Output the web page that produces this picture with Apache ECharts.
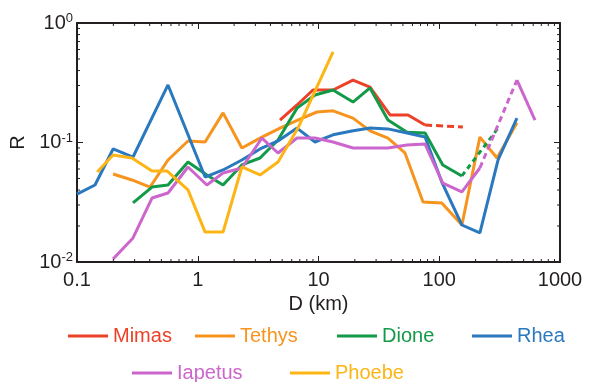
<!DOCTYPE html>
<html>
<head>
<meta charset="utf-8">
<script src="https://cdn.jsdelivr.net/npm/echarts@6/dist/echarts.min.js"></script>
<style>
  html, body { margin: 0; padding: 0; background: #fff; }
  #chart { width: 595px; height: 382px; }
</style>
</head>
<body>
<div id="chart"></div>
<script>
// 各卫星 R 值曲线：[D (km), R]
const mimas = [[4.8, 0.154], [6.64, 0.206], [9.0, 0.275], [13.2, 0.275], [19.3, 0.333],
  [26.7, 0.291], [39.1, 0.170], [55.1, 0.170], [76.3, 0.140]];
const mimasExt = [[76.3, 0.140], [157, 0.135]];

const tethys = [[0.199, 0.0545], [0.285, 0.0486], [0.403, 0.0424], [0.567, 0.0714], [0.83, 0.103],
  [1.15, 0.101], [1.62, 0.177], [2.32, 0.0899], [3.40, 0.111], [4.80, 0.132], [7.03, 0.157],
  [9.72, 0.180], [13.2, 0.184], [19.3, 0.160], [26.7, 0.125], [37.6, 0.109], [52.0, 0.0817],
  [73.4, 0.0318], [105, 0.0312], [154, 0.0204], [217, 0.111], [301, 0.0742], [440, 0.146]];

const dione = [[0.291, 0.0312], [0.418, 0.0424], [0.567, 0.0441], [0.83, 0.0687], [1.19, 0.0535],
  [1.62, 0.0441], [2.32, 0.0649], [3.28, 0.0742], [4.62, 0.105], [6.64, 0.194], [9.35, 0.250],
  [13.2, 0.275], [19.3, 0.218], [26.7, 0.286], [37.6, 0.154], [54.1, 0.122], [76.3, 0.120],
  [107, 0.0649], [154, 0.0525]];
const dioneExt = [[154, 0.0525], [307, 0.132]];

const rhea = [[0.1, 0.037], [0.141, 0.0441], [0.199, 0.0883], [0.291, 0.0756], [0.567, 0.303],
  [1.15, 0.0514], [1.62, 0.0589], [2.32, 0.0714], [3.28, 0.0883], [4.62, 0.103], [6.64, 0.132],
  [9.35, 0.101], [13.2, 0.116], [18.9, 0.125], [26.7, 0.132], [37.6, 0.130], [54.1, 0.120],
  [76.3, 0.111], [105, 0.0467], [154, 0.0204], [217, 0.0175], [307, 0.0714], [440, 0.160]];

const iapetus = [[0.199, 0.0106], [0.291, 0.0159], [0.418, 0.0343], [0.567, 0.0378], [0.83, 0.0624],
  [1.19, 0.0441], [1.62, 0.0556], [2.32, 0.0612], [3.40, 0.109], [4.62, 0.0817], [6.64, 0.109],
  [9.35, 0.109], [13.2, 0.101], [19.3, 0.0899], [26.7, 0.0899], [37.6, 0.0899], [54.1, 0.0953],
  [76.3, 0.0971], [107, 0.0458], [154, 0.0386], [217, 0.0612]];
const iapetusExt = [[217, 0.0612], [440, 0.333]];
const iapetusTail = [[440, 0.333], [621, 0.154]];

const phoebe = [[0.147, 0.0566], [0.199, 0.0786], [0.285, 0.0742], [0.418, 0.0578], [0.556, 0.0578],
  [0.83, 0.0401], [1.15, 0.0178], [1.62, 0.0178], [2.32, 0.0624], [3.28, 0.0535], [4.62, 0.0687],
  [6.76, 0.132], [13.2, 0.572]];

// 对数坐标的次刻度
const xMinorTicks = [0.2, 0.3, 0.4, 0.5, 0.6, 0.7, 0.8, 0.9, 2, 3, 4, 5, 6, 7, 8, 9,
  20, 30, 40, 50, 60, 70, 80, 90, 200, 300, 400, 500, 600, 700, 800, 900];
const yMinorTicks = [0.02, 0.03, 0.04, 0.05, 0.06, 0.07, 0.08, 0.09,
  0.2, 0.3, 0.4, 0.5, 0.6, 0.7, 0.8, 0.9];

const C = {
  Mimas: '#ec4128', Tethys: '#f7941d', Dione: '#139a48',
  Rhea: '#2a79bf', Iapetus: '#cc66cc', Phoebe: '#fdb515',
};
const FONT = "'Liberation Sans', Arial, sans-serif";
const INK = '#231f20';

const chart = echarts.init(document.getElementById('chart'), null, { renderer: 'canvas' });

function line(name, data, color, dash) {
  return {
    name, type: 'line', data, symbol: 'none', showSymbol: false,
    color, lineStyle: { color, width: 3, type: dash || 'solid' },
    xAxisIndex: 0, yAxisIndex: 0, silent: true,
  };
}

// 次刻度：用 custom series 按坐标轴换算后画短线（刻度朝内）
const minorX = {
  type: 'custom', silent: true, clip: false, z: 5,
  data: xMinorTicks.map(v => [v, 0.01]),
  renderItem: (params, api) => {
    const v = api.value(0);
    const b = api.coord([v, 0.01]);
    const t = api.coord([v, 1]);
    const st = { stroke: INK, lineWidth: 1 };
    return { type: 'group', children: [
      { type: 'line', shape: { x1: b[0], y1: b[1], x2: b[0], y2: b[1] - 3 }, style: st },
      { type: 'line', shape: { x1: t[0], y1: t[1], x2: t[0], y2: t[1] + 3 }, style: st },
    ] };
  },
};
const minorY = {
  type: 'custom', silent: true, clip: false, z: 5,
  data: yMinorTicks.map(v => [0.1, v]),
  renderItem: (params, api) => {
    const v = api.value(1);
    const l = api.coord([0.1, v]);
    const r = api.coord([1000, v]);
    const st = { stroke: INK, lineWidth: 1 };
    return { type: 'group', children: [
      { type: 'line', shape: { x1: l[0], y1: l[1], x2: l[0] + 3, y2: l[1] }, style: st },
      { type: 'line', shape: { x1: r[0], y1: r[1], x2: r[0] - 3, y2: r[1] }, style: st },
    ] };
  },
};

const axisCommon = {
  axisLine: { show: true, onZero: false, lineStyle: { color: INK, width: 2 } },
  axisTick: { show: true, inside: true, length: 6, lineStyle: { color: INK, width: 1 } },
  splitLine: { show: false },
};

// 图例：每项单独定位（线段起点 x，行中心 y）
const legendPos = [
  ['Mimas', 68, 335], ['Tethys', 195, 335], ['Dione', 337, 335], ['Rhea', 472, 335],
  ['Iapetus', 132, 372], ['Phoebe', 290, 372],
];

chart.setOption({
  animation: false,
  backgroundColor: '#fff',
  textStyle: { fontFamily: FONT },
  grid: { left: 77, right: 35, top: 23, bottom: 120, containLabel: false, outerBoundsMode: 'none' },
  legend: legendPos.map(([n, x, y]) => ({
    data: [{ name: n, textStyle: { color: C[n] } }],
    left: x, top: y - 9, padding: 0, icon: 'rect', itemWidth: 40, itemHeight: 3,
    textStyle: { fontSize: 20, fontFamily: FONT, color: C[n] },
    selectedMode: false,
  })),
  xAxis: [
    Object.assign({
      type: 'log', logBase: 10, min: 0.1, max: 1000, splitNumber: 4, position: 'bottom',
      axisLabel: { fontSize: 20, color: INK, margin: 8, fontFamily: FONT,
        formatter: v => String(+v.toPrecision(3)) },
      name: 'D (km)', nameLocation: 'middle', nameGap: 24,
      nameTextStyle: { fontSize: 20, color: INK, fontFamily: FONT },
    }, axisCommon),
    Object.assign({
      type: 'log', logBase: 10, min: 0.1, max: 1000, splitNumber: 4, position: 'top',
      axisLabel: { show: false },
    }, axisCommon),
  ],
  yAxis: [
    Object.assign({
      type: 'log', logBase: 10, min: 0.01, max: 1, splitNumber: 2, position: 'left',
      axisLabel: {
        margin: 4, color: INK, fontFamily: FONT,
        formatter: v => '{b|10}{s|' + Math.round(Math.log10(v)) + '}',
        rich: {
          b: { fontSize: 20, color: INK, fontFamily: FONT, lineHeight: 22 },
          s: { fontSize: 13, color: INK, fontFamily: FONT, verticalAlign: 'top', lineHeight: 14, padding: [0, 0, 6, 0] },
        },
      },
      name: 'R', nameLocation: 'middle', nameGap: 42, nameRotate: 90,
      nameTextStyle: { fontSize: 20, color: INK, fontFamily: FONT },
    }, axisCommon),
    Object.assign({
      type: 'log', logBase: 10, min: 0.01, max: 1, splitNumber: 2, position: 'right',
      axisLabel: { show: false },
    }, axisCommon),
  ],
  series: [
    line('Mimas', mimas, C.Mimas),
    line('Mimas ext', mimasExt, C.Mimas, [7, 4]),
    line('Tethys', tethys, C.Tethys),
    line('Dione', dione, C.Dione),
    line('Dione ext', dioneExt, C.Dione, [5, 4]),
    line('Rhea', rhea, C.Rhea),
    line('Iapetus', iapetus, C.Iapetus),
    line('Iapetus ext', iapetusExt, C.Iapetus, [6, 4]),
    line('Iapetus tail', iapetusTail, C.Iapetus),
    line('Phoebe', phoebe, C.Phoebe),
    minorX, minorY,
  ],
});
</script>
</body>
</html>
